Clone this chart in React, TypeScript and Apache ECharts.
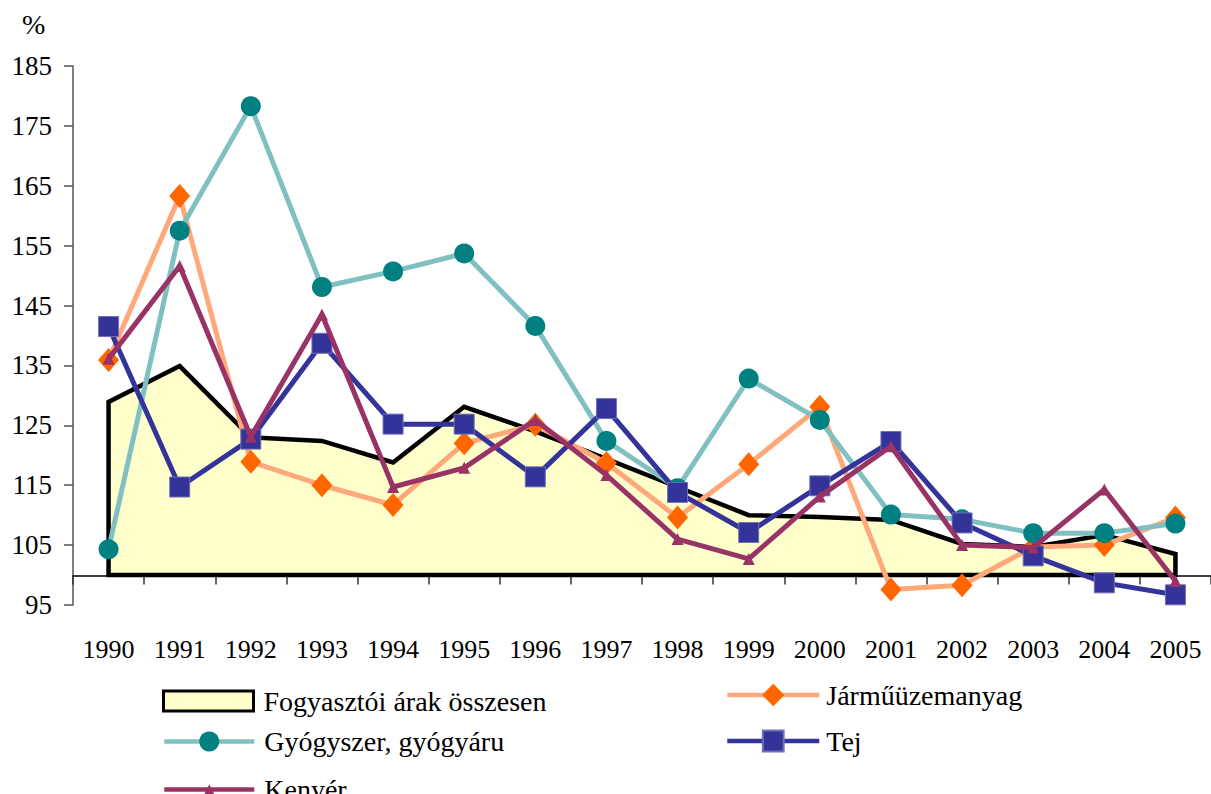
import React, { useEffect, useRef } from "react";
import * as echarts from "echarts";

const years = ["1990", "1991", "1992", "1993", "1994", "1995", "1996", "1997", "1998", "1999", "2000", "2001", "2002", "2003", "2004", "2005"];
const consumer = [128.9, 134.9, 123.0, 122.4, 118.8, 128.1, 124.0, 119.4, 114.7, 110.0, 109.7, 109.2, 105.2, 104.7, 106.7, 103.5];
const fuel = [135.9, 163.3, 118.9, 115.0, 111.7, 122.0, 125.1, 118.7, 109.6, 118.5, 128.1, 97.6, 98.3, 104.7, 105.0, 109.6];
const medicine = [104.3, 157.5, 178.3, 148.1, 150.7, 153.7, 141.6, 122.4, 114.5, 132.8, 125.9, 110.1, 109.3, 107.0, 107.0, 108.6];
const milk = [141.5, 114.7, 122.7, 138.7, 125.2, 125.2, 116.4, 127.8, 113.8, 107.1, 114.9, 122.3, 108.7, 103.2, 98.7, 96.7];
const bread = [136.1, 151.6, 123.1, 143.5, 114.7, 117.9, 125.9, 116.7, 106.0, 102.7, 113.1, 121.5, 105.0, 104.6, 114.3, 99.0];
const yTicks = [95, 105, 115, 125, 135, 145, 155, 165, 175, 185];
const baseLine = 100;

const names = {
  consumer: "Fogyasztói árak összesen",
  fuel: "Járműüzemanyag",
  medicine: "Gyógyszer, gyógyáru",
  milk: "Tej",
  bread: "Kenyér",
};

const FONT = "Liberation Serif";
const LW = 5;

export default function App() {
  const ref = useRef<HTMLDivElement>(null);
  useEffect(() => {
    if (!ref.current) return;
    const chart = echarts.init(ref.current, undefined, { renderer: "svg" });
    const mkLegend = (name: string, left: number, center: number, w: number, h: number, pad: number, extra: any = {}) => ({
      data: [{ name, ...extra }],
      left,
      top: center - h / 2,
      padding: 0,
      itemWidth: w,
      itemHeight: h,
      lineStyle: { width: 4.5 },
      textStyle: { fontFamily: FONT, fontSize: 28, color: "#000", padding: [0, 0, 0, pad] },
      selectedMode: false,
    });
    chart.setOption({
      animation: false,
      backgroundColor: "#fff",
      textStyle: { fontFamily: FONT },
      graphic: [
        { type: "text", left: 22, top: 10, style: { text: "%", fontFamily: FONT, fontSize: 28, fill: "#000" } },
      ],
      legend: [
        mkLegend(names.consumer, 162, 697, 90, 20, 5, { icon: "rect", itemStyle: { color: "#FFFFCC", borderColor: "#000", borderWidth: 3 } }),
        mkLegend(names.medicine, 162, 740, 90, 25, 5),
        mkLegend(names.bread, 162, 782, 90, 13, 5),
        mkLegend(names.fuel, 725, 695, 92, 28, 2),
        mkLegend(names.milk, 725, 740, 92, 26, 2),
      ],
      grid: { left: 73, top: 66, width: 1145, height: 539, containLabel: false },
      xAxis: {
        type: "category",
        data: years,
        boundaryGap: true,
        position: "bottom",
        offset: -29.5,
        axisLine: { show: true, lineStyle: { color: "#000", width: 1.5 } },
        axisTick: { show: true, length: 9, lineStyle: { color: "#333", width: 1.5 } },
        axisLabel: { interval: 0, margin: 61, fontFamily: FONT, fontSize: 26, color: "#000" },
        splitLine: { show: false },
      },
      yAxis: {
        type: "value",
        min: 95,
        max: 185,
        axisLine: { show: true, lineStyle: { color: "#555", width: 1.5 } },
        axisTick: { show: true, length: 9, customValues: yTicks, lineStyle: { color: "#555", width: 1.5 } },
        axisLabel: { customValues: yTicks, margin: 21, fontFamily: FONT, fontSize: 27, color: "#000" },
        splitLine: { show: false },
      },
      series: [
        {
          type: "custom",
          name: names.consumer,
          data: consumer.map((v, i) => [i, v]),
          encode: { x: 0, y: 1 },
          itemStyle: { color: "#FFFFCC", borderColor: "#000", borderWidth: 3 },
          z: 1,
          renderItem: (params: any, api: any) => {
            if (params.dataIndex !== 0) return null;
            const pts: number[][] = [api.coord([0, baseLine])];
            consumer.forEach((v, i) => pts.push(api.coord([i, v])));
            pts.push(api.coord([consumer.length - 1, baseLine]));
            return {
              type: "polygon",
              shape: { points: pts },
              style: { fill: "#FFFFCC", stroke: "#000", lineWidth: 4.5, lineJoin: "miter" },
            };
          },
        },
        {
          type: "line",
          name: names.fuel,
          data: fuel,
          symbol: "diamond",
          symbolSize: [21, 24],
          lineStyle: { color: "#FFA87A", width: LW },
          itemStyle: { color: "#FF6600" },
          z: 2,
        },
        {
          type: "line",
          name: names.medicine,
          data: medicine,
          symbol: "circle",
          symbolSize: 20,
          lineStyle: { color: "#80C0C0", width: LW },
          itemStyle: { color: "#008080" },
          z: 3,
        },
        {
          type: "line",
          name: names.milk,
          data: milk,
          symbol: "rect",
          symbolSize: 20,
          lineStyle: { color: "#333399", width: LW },
          itemStyle: { color: "#333399", borderColor: "#7070B8", borderWidth: 1 },
          z: 4,
        },
        {
          type: "line",
          name: names.bread,
          data: bread,
          symbol: "triangle",
          symbolSize: 12,
          lineStyle: { color: "#993366", width: LW },
          itemStyle: { color: "#993366" },
          z: 5,
        },
      ],
    });
    return () => chart.dispose();
  }, []);
  return <div ref={ref} style={{ position: "absolute", left: 0, top: 0, width: 1211, height: 794 }} />;
}
